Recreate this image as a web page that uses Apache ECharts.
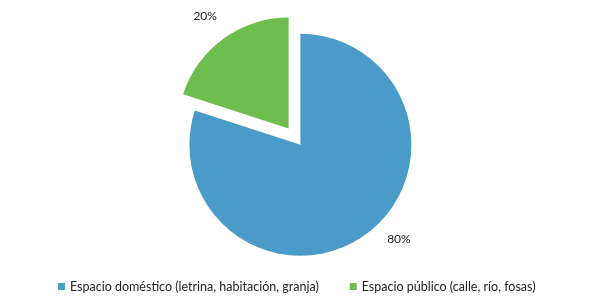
<!DOCTYPE html>
<html><head><meta charset="utf-8">
<script src="https://cdn.jsdelivr.net/npm/echarts@6/dist/echarts.min.js"></script>
<style>html,body{margin:0;padding:0;background:#fff}#c{width:589px;height:308px}</style>
</head><body><div id="c"></div>
<script>
const categories = ['Espacio doméstico (letrina, habitación, granja)', 'Espacio público (calle, río, fosas)'];
const values = [80, 20];
const colors = ['#4a9bc7', '#6dbe4f'];
const lineLen1 = [6, 28];
const lineLen2 = [13, -15];

const chart = echarts.init(document.getElementById('c'), null, {renderer: 'canvas'});
chart.setOption({
  animation: false,
  legend: {
    bottom: 10,
    left: 53,
    itemWidth: 7,
    itemHeight: 7,
    itemGap: 31,
    icon: 'rect',
    textStyle: {fontFamily: 'Lato', fontSize: 12.5, color: '#222'},
    data: categories
  },
  series: [{
    type: 'pie',
    center: ['51%', '47%'],
    radius: 111,
    startAngle: 90,
    selectedMode: 'single',
    selectedOffset: 20,
    label: {
      show: true,
      position: 'outside',
      formatter: '{d}%',
      fontFamily: 'Lato',
      fontSize: 12,
      color: '#222'
    },
    labelLine: {show: false},
    data: categories.map((n, i) => ({
      name: n, value: values[i], selected: i === 1,
      itemStyle: {color: colors[i]},
      labelLine: {show: false, length: lineLen1[i], length2: lineLen2[i]}
    }))
  }]
});
</script></body></html>
